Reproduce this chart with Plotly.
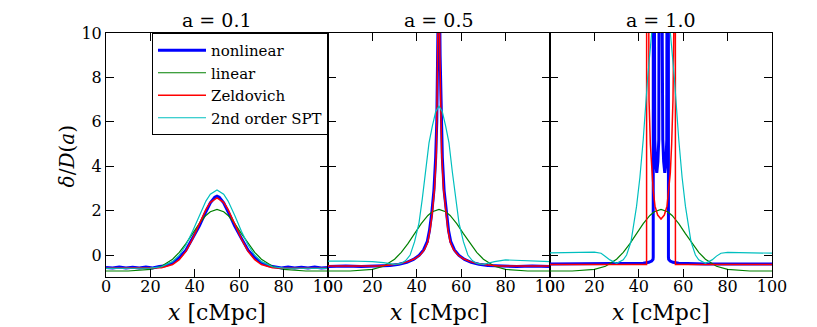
import plotly.graph_objects as go

# linear theory profile, delta/D(a) -- identical in all three panels
x_lin = [0, 10, 20, 25, 30, 33, 36, 39, 42, 45, 47, 50, 53, 55, 58, 61, 64, 67, 70, 75, 80, 90, 100]
linear = [-0.72, -0.72, -0.65, -0.51, -0.19, 0.12, 0.51, 0.96, 1.41, 1.78, 1.95, 2.05,
          1.95, 1.78, 1.41, 0.96, 0.51, 0.12, -0.19, -0.51, -0.65, -0.72, -0.72]

# a = 0.1
x_a01 = x_lin
zel_a01 = [-0.6, -0.6, -0.6, -0.57, -0.43, -0.21, 0.16, 0.72, 1.39, 2.04, 2.37, 2.57,
           2.37, 2.04, 1.39, 0.72, 0.16, -0.21, -0.43, -0.57, -0.6, -0.6, -0.6]
spt_a01 = [-0.6, -0.6, -0.59, -0.53, -0.30, -0.01, 0.45, 1.07, 1.78, 2.43, 2.74, 2.93,
           2.74, 2.43, 1.78, 1.07, 0.45, -0.01, -0.30, -0.53, -0.59, -0.6, -0.6]
x_nl_a01 = [0, 3, 6, 9, 12, 15, 18, 21, 24, 27, 30, 33, 36, 39, 42, 45, 47, 49, 50,
            51, 53, 55, 58, 61, 64, 67, 70, 73, 76, 79, 82, 85, 88, 91, 94, 97, 100]
nl_a01 = [-0.56, -0.59, -0.54, -0.58, -0.55, -0.59, -0.54, -0.58, -0.52, -0.48, -0.35, -0.12,
          0.22, 0.75, 1.3, 1.95, 2.35, 2.6, 2.65, 2.6, 2.35, 1.95, 1.3, 0.75, 0.22, -0.12,
          -0.35, -0.48, -0.52, -0.58, -0.54, -0.59, -0.55, -0.58, -0.54, -0.59, -0.56]

# a = 0.5
x_zel_a05 = [0, 15, 23, 28, 32, 36, 39, 41.5, 43.5, 45, 46, 47, 48, 48.8, 49.2, 49.6, 50,
             50.4, 50.8, 51.2, 52, 53, 54, 55, 56.5, 58.5, 61, 64, 68, 72, 77, 85, 100]
zel_a05 = [-0.5, -0.5, -0.49, -0.45, -0.4, -0.3, -0.17, 0.0, 0.25, 0.6, 1.15, 1.9, 3.0, 4.6,
           6.2, 9, 14, 9, 6.2, 4.6, 3.0, 1.9, 1.15, 0.6, 0.25, 0.0, -0.17, -0.3, -0.4,
           -0.45, -0.49, -0.5, -0.5]
x_nl_a05 = [0, 8, 15, 23, 28, 32, 35.5, 38.5, 41, 43, 44.7, 45.7, 46.7, 47.7, 48.5, 49, 49.5,
            50, 50.5, 51, 51.5, 52.3, 53.3, 54.3, 55.3, 57, 59, 61.5, 64.5, 68, 72, 77, 85,
            92, 100]
nl_a05 = [-0.52, -0.49, -0.52, -0.5, -0.47, -0.42, -0.33, -0.2, -0.02, 0.22, 0.6, 1.1, 1.85,
          2.9, 4.4, 6.0, 9, 14, 9, 6.0, 4.4, 2.9, 1.85, 1.1, 0.6, 0.22, -0.02, -0.2, -0.33,
          -0.42, -0.47, -0.5, -0.52, -0.49, -0.52]
x_spt_a05 = [0, 10, 20, 25, 30, 33, 35, 37, 39, 41, 42.5, 44, 45.5, 47, 48.5, 50, 51.5, 53,
             54.5, 56, 57.5, 59, 61, 63, 65, 67, 70, 75, 80, 90, 100]
spt_a05 = [-0.28, -0.27, -0.30, -0.34, -0.42, -0.38, -0.25, 0.0, 0.6, 1.45, 2.55, 3.75,
           5.05, 5.8, 6.45, 6.7, 6.45, 5.8, 5.05, 3.75, 2.55, 1.45, 0.6, 0.0, -0.25, -0.38,
           -0.42, -0.30, -0.22, -0.27, -0.30]

# a = 1.0
x_zel_a10 = [0, 20, 40, 43.5, 43.6, 44.2, 44.6, 45.2, 45.8, 46.5, 47.3, 48.5, 50, 51.5, 52.7,
             53.5, 54.2, 54.8, 55.4, 55.8, 56.4, 56.5, 60, 80, 100]
zel_a10 = [-0.43, -0.43, -0.43, -0.43, 40, 10.5, 7, 5, 3.7, 2.9, 2.2, 1.8, 1.62, 1.8, 2.2,
           2.9, 3.7, 5, 7, 10.5, 40, -0.43, -0.43, -0.43, -0.43]
x_nl_a10 = [0, 10, 20, 30, 38, 42, 44.5, 45.8, 46.4, 46.5, 46.55, 46.9, 47.2, 47.6, 48.1,
            48.6, 49.0, 49.5, 50.4, 50.8, 51.2, 51.7, 52.2, 52.6, 52.9, 53.3, 53.35, 53.45,
            54.1, 55.4, 58, 62, 70, 80, 90, 100]
nl_a10 = [-0.4, -0.4, -0.4, -0.4, -0.39, -0.37, -0.33, -0.27, -0.2, -0.1, 30, 30, 5.2, 4.1,
          3.7, 4.2, 5.2, 30, 30, 5.2, 4.2, 3.7, 4.1, 5.2, 30, 30, -0.1, -0.2, -0.27, -0.33,
          -0.37, -0.39, -0.4, -0.4, -0.4, -0.4]
x_spt_a10 = [0, 10, 20, 23, 25, 27, 30, 33, 34.5, 36.5, 39, 40.5, 42, 44, 45.8, 48, 50, 52,
             54.2, 56, 58, 59.5, 61, 63.5, 65.5, 67, 70, 73, 75, 77, 80, 90, 100]
spt_a10 = [0.1, 0.12, 0.13, 0.08, -0.05, -0.22, -0.37, -0.22, 0.0, 0.6, 2.2, 3.5, 5.2, 8,
           10, 12.5, 13.5, 12.5, 10, 8, 5.2, 3.5, 2.2, 0.6, 0.0, -0.22, -0.37, -0.22, -0.05,
           0.08, 0.12, 0.1, 0.08]

titles = ["a = 0.1", "a = 0.5", "a = 1.0"]
names = ["nonlinear", "linear", "Zeldovich", "2nd order SPT"]
colors = ["#0000ff", "#008000", "#ff0000", "#00bfbf"]
widths = [3, 1.2, 1.5, 1.2]

panels = [
    [(x_nl_a01, nl_a01), (x_lin, linear), (x_a01, zel_a01), (x_a01, spt_a01)],
    [(x_nl_a05, nl_a05), (x_lin, linear), (x_zel_a05, zel_a05), (x_spt_a05, spt_a05)],
    [(x_nl_a10, nl_a10), (x_lin, linear), (x_zel_a10, zel_a10), (x_spt_a10, spt_a10)],
]

W, H = 817, 327
OFF = 8  # page body margin, the figure is drawn 8px right/down of the window corner


def px(x):
    return (x - OFF) / W


def py(y):
    return 1 - (y - OFF) / H


x_dom = [(px(106), px(328)), (px(328), px(550)), (px(550), px(772))]
y_dom = (py(277.2), py(33))
font = "DejaVu Serif, Liberation Serif, serif"

fig = go.Figure()
for p, series in enumerate(panels):
    sfx = "" if p == 0 else str(p + 1)
    for k, (xs, ys) in enumerate(series):
        fig.add_trace(go.Scatter(
            x=xs, y=ys, mode="lines", name=names[k],
            line=dict(color=colors[k], width=widths[k]),
            xaxis="x" + sfx, yaxis="y" + sfx,
            legendgroup=names[k], showlegend=(p == 0),
        ))

axis_common = dict(
    showline=True, linecolor="black", linewidth=1, mirror="ticks",
    ticks="inside", ticklen=8, tickcolor="black", tickwidth=1,
    showgrid=False, zeroline=False, automargin=False,
    tickfont=dict(family=font, size=16, color="black"),
)

layout = dict(
    width=W, height=H, autosize=False,
    margin=dict(l=0, r=0, t=0, b=0, pad=0, autoexpand=False),
    plot_bgcolor="white", paper_bgcolor="white",
    font=dict(family=font, color="black"),
    showlegend=True,
    legend=dict(
        x=px(328), y=py(33), xanchor="right", yanchor="top",
        bgcolor="white", bordercolor="black", borderwidth=1,
        font=dict(family=font, size=15, color="black"),
        tracegroupgap=0, itemwidth=48,
    ),
)
annotations = []
for p in range(3):
    sfx = "" if p == 0 else str(p + 1)
    layout["xaxis" + sfx] = dict(
        axis_common, domain=list(x_dom[p]), range=[0, 100], anchor="y" + sfx,
        tickvals=[0, 20, 40, 60, 80, 100], ticklabelstandoff=-5,
    )
    layout["yaxis" + sfx] = dict(
        axis_common, domain=list(y_dom), range=[-1, 10], anchor="x" + sfx,
        tickvals=[0, 2, 4, 6, 8, 10], showticklabels=(p == 0),
    )
    cx = (x_dom[p][0] + x_dom[p][1]) / 2
    annotations.append(dict(
        text=titles[p], x=cx, y=py(20), xref="paper", yref="paper",
        xanchor="center", yanchor="middle",
        showarrow=False, font=dict(family=font, size=19, color="black"),
    ))
    annotations.append(dict(
        text="<i>x</i> [cMpc]", x=cx, y=py(312), xref="paper", yref="paper",
        xanchor="center", yanchor="middle",
        showarrow=False, font=dict(family=font, size=22, color="black"),
    ))
annotations.append(dict(
    text="<i>δ</i>/<i>D</i>(<i>a</i>)", x=px(66.7), y=py(156.7),
    xref="paper", yref="paper", showarrow=False, textangle=-90,
    xanchor="center", yanchor="middle",
    font=dict(family=font, size=20, color="black"),
))
layout["annotations"] = annotations

fig.update_layout(**layout)
fig.write_html("out.html")
